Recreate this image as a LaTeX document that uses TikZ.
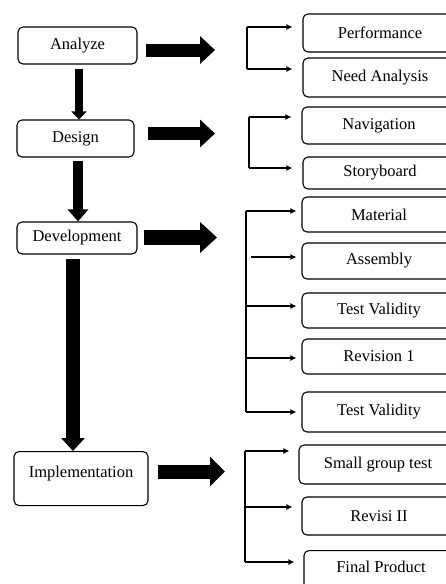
\documentclass[tikz,border=0pt]{standalone}
\usepackage{fontspec}
\setmainfont{Liberation Serif}
\usetikzlibrary{arrows.meta}

\begin{document}
\begin{tikzpicture}[x=1pt,y=-1pt,
    box/.style={draw,rounded corners=5pt,line width=1.1pt,inner sep=0pt,font=\fontsize{16.5}{18}\selectfont},
    sub/.style={box,minimum width=154pt},
    hbig/.style={line width=13pt,-{Triangle[length=15pt,width=27pt]}},
    thin line/.style={line width=1.2pt},
    tip/.style={line width=1.2pt,-{Latex[length=6pt,width=6pt]}}]
    \useasboundingbox (0,0) rectangle (446,584);
    \clip (0,0) rectangle (446,584);
    % main steps
    \node[box,minimum width=119pt,minimum height=37pt] (ana) at (77.5,45.5) {Analyze};
    \node[box,minimum width=117pt,minimum height=37pt] (des) at (75.5,138.5) {Design};
    \node[box,minimum width=120pt,minimum height=32pt] (dev) at (77,238) {Development};
    \node[box,minimum width=134pt,anchor=north,inner ysep=14pt,text height=12pt,text depth=14pt] (imp) at (81,451) {Implementation};
    \draw[line width=8pt,-{Triangle[length=8pt,width=15pt]},shorten <=4pt] ([xshift=1.5pt]ana.south) -- ([xshift=1.5pt]ana.south |- des.north);
    \draw[line width=10pt,-{Triangle[length=12pt,width=20pt]},shorten <=3pt] ([xshift=2.5pt]des.south) -- ([xshift=2.5pt]des.south |- dev.north);
    \draw[line width=14pt,-{Triangle[length=13pt,width=23pt]},shorten <=4pt] ([xshift=-4pt]dev.south) -- ([xshift=-4pt]dev.south |- imp.north);
    % sub steps
    \node[sub,minimum height=38pt] (perf) at (380,33) {Performance};
    \node[sub,minimum height=39pt] (need) at (380,77.5) {Need Analysis};
    \node[sub,minimum height=37pt] (nav) at (379,125.5) {Navigation};
    \node[sub,minimum height=32pt] (story) at (380,173) {Storyboard};
    \node[sub,minimum height=35pt] (mat) at (379,214.5) {Material};
    \node[sub,minimum height=36pt] (asm) at (379,261) {Assembly};
    \node[sub,minimum height=35pt] (tv1) at (379,310.5) {Test Validity};
    \node[sub,minimum height=35pt] (rev) at (379,356.5) {Revision 1};
    \node[sub,minimum height=40pt] (tv2) at (379,412) {Test Validity};
    \node[sub,minimum width=158pt,minimum height=39pt] (sgt) at (378,464.5) {Small group test};
    \node[sub,minimum height=38pt] (rvii) at (379,516) {Revisi II};
    \node[sub,anchor=north,inner ysep=10pt,text height=12pt,text depth=28pt] (fin) at (381,550) {Final Product};
    % block arrows
    \coordinate (h1) at (215,50);
    \coordinate (h2) at (215,133.5);
    \coordinate (h3) at (217,237.5);
    \coordinate (h4) at (225,471.5);
    \draw[hbig,shorten <=8pt] (ana.east |- h1) -- (h1);
    \draw[hbig,shorten <=13pt] (des.east |- h2) -- (h2);
    \draw[hbig,line width=15pt,-{Triangle[length=17pt,width=30pt]},shorten <=6pt] (dev.east |- h3) -- (h3);
    \draw[hbig,line width=14pt,-{Triangle[length=15pt,width=29pt]},shorten <=9pt] (imp.east |- h4) -- (h4);
    % brackets
    \coordinate (a1) at (247,27);   \coordinate (a2) at (247,69);
    \coordinate (b1) at (249,117);  \coordinate (b2) at (249,168);
    \coordinate (c1) at (246,211);  \coordinate (c2) at (251,257);
    \coordinate (c3) at (246,306);  \coordinate (c4) at (246,358);
    \coordinate (c5) at (246,412);
    \coordinate (d1) at (245,451);  \coordinate (d2) at (245,507);
    \coordinate (d3) at (245,562);
    \draw[thin line] (a1) -- (a2);
    \draw[thin line] (b1) -- (b2);
    \draw[thin line] (c1) -- (c5);
    \draw[thin line] (d1) -- (d3);
    \draw[tip,shorten >=10pt] (a1) -- (perf.west |- a1);
    \draw[tip,shorten >=10pt] (a2) -- (need.west |- a2);
    \draw[tip,shorten >=10pt] (b1) -- (nav.west |- b1);
    \draw[tip,shorten >=10pt] (b2) -- (story.west |- b2);
    \draw[tip,shorten >=5pt] (c1) -- (mat.west |- c1);
    \draw[tip,shorten >=5pt] (c2) -- (asm.west |- c2);
    \draw[tip,shorten >=5pt] (c3) -- (tv1.west |- c3);
    \draw[tip,shorten >=5pt] (c4) -- (rev.west |- c4);
    \draw[tip,shorten >=5pt] (c5) -- (tv2.west |- c5);
    \draw[tip,shorten >=9pt] (d1) -- (sgt.west |- d1);
    \draw[tip,shorten >=9pt] (d2) -- (rvii.west |- d2);
    \draw[tip,shorten >=9pt] (d3) -- (fin.west |- d3);
\end{tikzpicture}
\end{document}
